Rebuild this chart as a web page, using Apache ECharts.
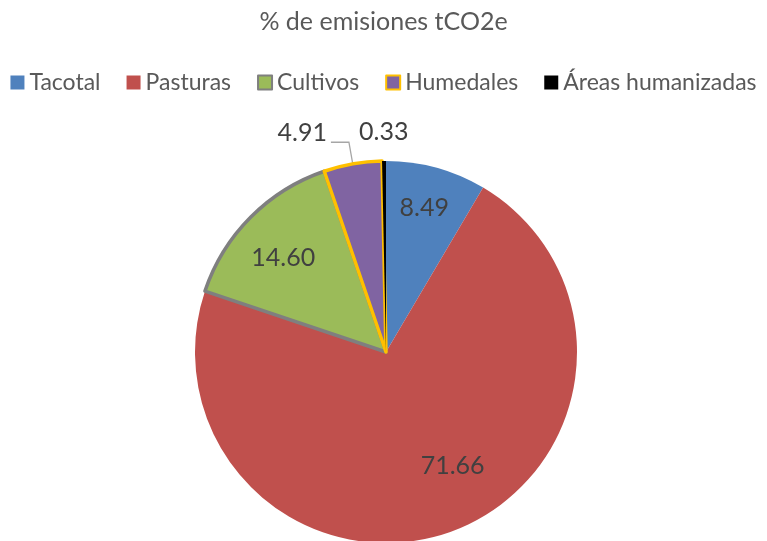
<!DOCTYPE html>
<html>
<head>
<meta charset="utf-8">
<script src="https://cdn.jsdelivr.net/npm/echarts@6/dist/echarts.min.js"></script>
<style>
  html, body { margin: 0; padding: 0; background: #fff; }
  #chart { width: 767px; height: 541px; }
</style>
</head>
<body>
<div id="chart"></div>
<script>
// datos
const categorias = ['Tacotal', 'Pasturas', 'Cultivos', 'Humedales', 'Áreas humanizadas']
const valores = [8.49, 71.66, 14.60, 4.91, 0.33]
const colores = ['#4F81BD', '#C0504D', '#9BBB59', '#8064A2', '#000000']
const bordes = [null, null, '#7F7F7F', '#FFC000', null]

const fuente = 'Lato'
const centro = [386, 352]
const radio = 191

const chart = echarts.init(document.getElementById('chart'))

// serie principal: sectores + etiquetas de los dos sectores pequeños
const datosPie = categorias.map((nombre, i) => ({
  name: nombre,
  value: valores[i],
  itemStyle: {
    color: colores[i],
    borderColor: bordes[i] || colores[i],
    borderWidth: bordes[i] ? 3.5 : 0
  },
  label: {
    show: i >= 3
  },
  labelLine: {
    show: i === 3,
    length: i === 3 ? 22 : 29,
    length2: i === 3 ? 18 : 0
  }
}))

// serie transparente encima para colocar las etiquetas interiores más afuera
const datosEtiquetas = categorias.map((nombre, i) => ({
  name: nombre,
  value: valores[i],
  label: { show: i < 3 }
}))

const option = {
  animation: false,
  title: {
    text: '% de emisiones tCO2e',
    left: 'center',
    top: 4,
    textStyle: { fontFamily: fuente, fontSize: 25, fontWeight: 'normal', color: '#595959' }
  },
  legend: {
    data: categorias,
    top: 66,
    left: 'center',
    itemWidth: 14,
    itemHeight: 14,
    itemGap: 26,
    icon: 'rect',
    textStyle: { fontFamily: fuente, fontSize: 23, color: '#595959' }
  },
  series: [
    {
      name: 'emisiones',
      type: 'pie',
      center: centro,
      radius: radio,
      startAngle: 90,
      clockwise: true,
      avoidLabelOverlap: false,
      data: datosPie,
      label: {
        position: 'outside',
        formatter: p => p.value.toFixed(2),
        fontFamily: fuente,
        fontSize: 25,
        color: '#404040',
        distanceToLabelLine: 4
      },
      labelLine: { lineStyle: { color: '#A6A6A6', width: 1.3 } },
      labelLayout: p => (p.dataIndex === 4 ? { align: 'center', dx: 4 } : (p.dataIndex === 3 ? { dy: -9 } : {}))
    },
    {
      name: 'etiquetas',
      type: 'pie',
      center: centro,
      radius: 284,
      startAngle: 90,
      clockwise: true,
      silent: true,
      avoidLabelOverlap: false,
      legendHoverLink: false,
      itemStyle: { color: 'rgba(0,0,0,0)' },
      emphasis: { disabled: true },
      data: datosEtiquetas,
      label: {
        position: 'inside',
        formatter: p => p.value.toFixed(2),
        fontFamily: fuente,
        fontSize: 25,
        color: '#404040'
      },
      labelLine: { show: false },
      labelLayout: p => (p.dataIndex === 1 ? { dx: 16, dy: -22 } : (p.dataIndex === 2 ? { dy: 8 } : { dy: -4 }))
    }
  ]
}

chart.setOption(option)
</script>
</body>
</html>
